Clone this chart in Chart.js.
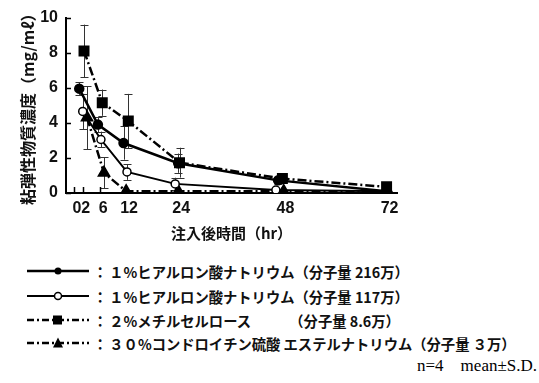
<!DOCTYPE html>
<html><head><meta charset="utf-8">
<script src="https://cdn.jsdelivr.net/npm/chart.js@4.4.1/dist/chart.umd.min.js"></script>
<style>
html,body{margin:0;padding:0;background:#fff;}
body{width:539px;height:383px;position:relative;overflow:hidden;font-family:"Noto Sans CJK JP",sans-serif;}
#c{position:absolute;left:0;top:0;}
.row{position:absolute;left:27px;height:20px;display:flex;align-items:center;font-size:14.3px;font-weight:bold;color:#111;white-space:nowrap;}
.row svg{display:block;margin-right:4px;}
.colon{margin-right:2px;}
.note{position:absolute;right:2px;top:356px;font-family:"Liberation Serif","Times New Roman",serif;font-size:17px;color:#000;}
</style></head>
<body>
<canvas id="c" width="539" height="251"></canvas>
<div class="row" style="top:261px"><svg width="62" height="12"><line x1="0" y1="6" x2="62" y2="6" stroke="#000" stroke-width="2.5"/><circle cx="31" cy="6" r="3.5" fill="#000"/></svg><span class="colon">：</span><span>１%ヒアルロン酸ナトリウム（分子量 216万）</span></div>
<div class="row" style="top:286px"><svg width="62" height="12"><line x1="0" y1="6" x2="62" y2="6" stroke="#000" stroke-width="2"/><circle cx="31" cy="6" r="3.5" fill="#fff" stroke="#000" stroke-width="1.5"/></svg><span class="colon">：</span><span>１%ヒアルロン酸ナトリウム（分子量 117万）</span></div>
<div class="row" style="top:310px"><svg width="62" height="12"><line x1="0" y1="6" x2="62" y2="6" stroke="#000" stroke-width="2.5" stroke-dasharray="7,3,2,3"/><rect x="26" y="1.5" width="9" height="9" fill="#000"/></svg><span class="colon">：</span><span style="display:inline-block;width:180px">２%メチルセルロース</span><span>（分子量 8.6万）</span></div>
<div class="row" style="top:333px"><svg width="62" height="12"><line x1="0" y1="6" x2="62" y2="6" stroke="#000" stroke-width="2.5" stroke-dasharray="7,3,2,3"/><polygon points="31,0.5 36,10.5 26,10.5" fill="#000"/></svg><span class="colon">：</span><span>３０%コンドロイチン硫酸 エステルナトリウム（分子量 ３万）</span></div>
<div class="note">n=4&nbsp;&nbsp;&nbsp;&nbsp;mean±S.D.</div>
<script>
// ---- data ----
const xTickValues = [0, 2, 6, 12, 24, 48, 72];
const seriesNames = ['1%ヒアルロン酸ナトリウム（分子量216万）','1%ヒアルロン酸ナトリウム（分子量117万）','2%メチルセルロース（分子量8.6万）','30%コンドロイチン硫酸エステルナトリウム（分子量3万）'];
// x positions as plotted (points slightly staggered around each sampling time)
const haHighTimes = [1.2, 5.5, 11.4, 24.0, 47.0, 72.0];
const haHighMean  = [5.95, 3.9, 2.85, 1.7, 0.72, 0.1];
const haHighSD    = [0.35, 0.45, 0.95, 0.55, 0.2, 0.05];
const haLowTimes  = [2.0, 6.2, 12.2, 23.3, 46.5, 72.0];
const haLowMean   = [4.65, 3.05, 1.2, 0.52, 0.17, 0.1];
const haLowSD     = [1.0, 0.45, 0.45, 0.35, 0.08, 0.03];
const mcTimes     = [2.3, 6.5, 12.5, 24.3, 48.0, 72.0];
const mcMean      = [8.1, 5.15, 4.1, 1.73, 0.82, 0.35];
const mcSD        = [1.5, 0.75, 1.55, 0.85, 0.2, 0.05];
const csTimes     = [3.0, 6.9, 12.0, 24.0, 48.3, 72.3];
const csMean      = [4.3, 1.15, 0.1, 0.1, 0.1, 0.1];
const csSD        = [1.8, 0.88, 0.0, 0.0, 0.0, 0.0];

const pts = (t, m) => t.map((x, i) => ({x, y: m[i]}));
const sds = [haHighSD, haLowSD, mcSD, csSD];

const errorBars = {
  id: 'errorBars',
  beforeDatasetsDraw(chart) {
    const {ctx, scales: {x, y}} = chart;
    ctx.save();
    ctx.strokeStyle = '#333';
    ctx.lineWidth = 1;
    chart.data.datasets.forEach((ds, di) => {
      ds.data.forEach((p, i) => {
        const sd = sds[di][i];
        if (!sd) return;
        const px = Math.round(x.getPixelForValue(p.x)) + 0.5;
        const top = y.getPixelForValue(p.y + sd);
        const bot = y.getPixelForValue(Math.max(0, p.y - sd));
        ctx.beginPath();
        ctx.moveTo(px, top); ctx.lineTo(px, bot);
        ctx.moveTo(px - 4, Math.round(top) + 0.5); ctx.lineTo(px + 4, Math.round(top) + 0.5);
        if (p.y - sd > 0) { ctx.moveTo(px - 4, Math.round(bot) + 0.5); ctx.lineTo(px + 4, Math.round(bot) + 0.5); }
        ctx.stroke();
      });
    });
    ctx.restore();
  }
};
const inwardTicks = {
  id: 'inwardTicks',
  afterDraw(chart) {
    const {ctx, scales: {x, y}, chartArea} = chart;
    ctx.save();
    ctx.strokeStyle = '#000';
    ctx.lineWidth = 1.5;
    ctx.beginPath();
    y.ticks.forEach(t => {
      const py = Math.round(y.getPixelForValue(t.value)) + 0.5;
      ctx.moveTo(chartArea.left, py); ctx.lineTo(chartArea.left + 5, py);
    });
    x.ticks.forEach(t => {
      const px = Math.round(x.getPixelForValue(t.value)) + 0.5;
      ctx.moveTo(px, chartArea.bottom); ctx.lineTo(px, chartArea.bottom - 6);
    });
    ctx.stroke();
    ctx.restore();
  }
};

const tickFont = {family: "'Liberation Sans', Arial, sans-serif", size: 16, weight: 'bold'};
const titleFont = {family: "'Noto Sans CJK JP', sans-serif", size: 16, weight: 'bold'};

new Chart(document.getElementById('c'), {
  type: 'scatter',
  data: {
    datasets: [
      {label: seriesNames[0], data: pts(haHighTimes, haHighMean), showLine: true, borderColor: '#000', borderWidth: 2.5,
       pointStyle: 'circle', pointRadius: 4, pointBackgroundColor: '#000', pointBorderColor: '#000'},
      {label: seriesNames[1], data: pts(haLowTimes, haLowMean), showLine: true, borderColor: '#000', borderWidth: 2,
       pointStyle: 'circle', pointRadius: 4, pointBackgroundColor: '#fff', pointBorderColor: '#000', pointBorderWidth: 1.5},
      {label: seriesNames[2], data: pts(mcTimes, mcMean), showLine: true, borderColor: '#000', borderWidth: 2.5, borderDash: [9, 3, 2, 3],
       pointStyle: 'rect', pointRadius: 6, pointBackgroundColor: '#000', pointBorderColor: '#000'},
      {label: seriesNames[3], data: pts(csTimes, csMean), showLine: true, borderColor: '#000', borderWidth: 2.5, borderDash: [9, 3, 2, 3],
       pointStyle: 'triangle', pointRadius: 5.5, pointBackgroundColor: '#000', pointBorderColor: '#000'}
    ]
  },
  options: {
    responsive: false, animation: false,
    layout: {padding: {top: 16, right: 142, left: 18, bottom: 9}},
    plugins: {legend: {display: false}, tooltip: {enabled: false}},
    scales: {
      x: {
        type: 'linear', min: -1.85, max: 74.4,
        afterBuildTicks: s => { s.ticks = xTickValues.map(v => ({value: v})); },
        afterFit: s => { s.height = 49; },
        grid: {display: true, drawOnChartArea: false, drawTicks: false},
        border: {color: '#000', width: 2},
        ticks: {font: tickFont, color: '#111', padding: 6, labelOffset: 3, maxRotation: 0, autoSkip: false, callback: v => String(v)},
        title: {display: true, text: '注入後時間（hr）', font: {family: "'Noto Sans CJK JP', sans-serif", size: 15, weight: 'bold'}, color: '#111', padding: {top: 2, bottom: 0}}
      },
      y: {
        min: 0, max: 10,
        afterFit: s => { s.width = 48; },
        grid: {display: true, drawOnChartArea: false, drawTicks: false},
        border: {color: '#000', width: 2},
        ticks: {stepSize: 2, font: tickFont, color: '#111', padding: 8},
        title: {display: true, text: '粘弾性物質濃度（mg/mℓ）', font: titleFont, color: '#111', padding: {top: 0, bottom: 0}}
      }
    }
  },
  plugins: [errorBars, inwardTicks]
});
</script>
</body></html>
